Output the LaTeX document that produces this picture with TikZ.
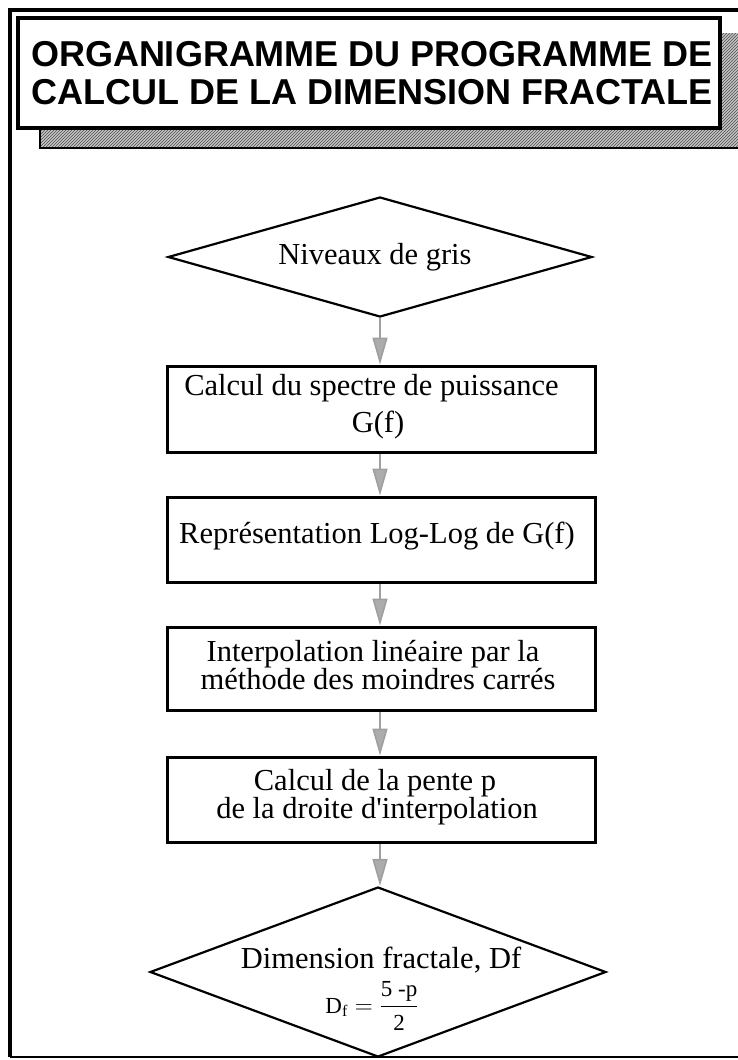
\documentclass[tikz,border=0pt]{standalone}
\usepackage{fontspec}
\usepackage{amsmath}
\setmainfont{Liberation Serif}
\newfontfamily\titlefont{Liberation Sans}
\usetikzlibrary{shapes.geometric,arrows.meta,patterns}
\begin{document}
\begin{tikzpicture}[x=1pt,y=-1pt,
  boxstyle/.style={draw=black,line width=3pt,fill=white,minimum width=428pt,inner sep=0pt},
  diastyle/.style={draw=black,line width=2.2pt,shape=diamond,inner sep=0pt},
  txtstyle/.style={anchor=base,inner sep=0pt,font=\fontsize{30.5}{30}\selectfont},
  flow/.style={draw=gray!75,line width=1.6pt,-{Triangle[length=27pt,width=15pt,fill=gray!65]}},
  framestyle/.style={draw=black,line width=4pt}]
\useasboundingbox (0,0) rectangle (738,1060);
\clip (0,0) rectangle (738,1060);
% outer frame
\draw[framestyle] (10,1057) -- (10,10) -- (760,10);
\draw[black,line width=2pt] (10,1057) -- (760,1057);
% title shadow
\fill[gray!45] (40,33) rectangle (760,148);
\fill[pattern=north east lines,pattern color=black!70] (40,33) rectangle (760,148);
\draw[black,line width=1.5pt] (40,128) -- (40,148) -- (760,148);
% title box
\node[draw=black,line width=4pt,fill=white,minimum width=702pt,minimum height=110pt,inner sep=0pt] (title) at (369,73) {};
\node[anchor=base,inner sep=0pt,font=\fontsize{36}{36}\titlefont\bfseries] (title1) at (372,66) {ORGANIGRAMME DU PROGRAMME DE};
\node[anchor=base,inner sep=0pt,font=\fontsize{36}{36}\titlefont\bfseries] (title2) at (372,104) {CALCUL DE LA DIMENSION FRACTALE};
% flowchart shapes
\node[diastyle,minimum width=424pt,minimum height=120pt] (d1) at (380,257) {};
\node[boxstyle,minimum height=86pt] (b1) at (381,409) {};
\node[boxstyle,minimum height=85pt] (b2) at (381,539.5) {};
\node[boxstyle,minimum height=83pt] (b3) at (381,668.5) {};
\node[boxstyle,minimum height=85pt] (b4) at (381,799.5) {};
\node[diastyle,minimum width=456pt,minimum height=170pt] (d2) at (378,972) {};
% texts
\node[txtstyle] (t1) at (375,264) {Niveaux de gris};
\node[txtstyle] (t2a) at (371.5,395) {Calcul du spectre de puissance};
\node[txtstyle] (t2b) at (378,432) {G(f)};
\node[txtstyle] (t3) at (377,543) {Représentation Log-Log de G(f)};
\node[txtstyle] (t4a) at (373,661) {Interpolation linéaire par la};
\node[txtstyle] (t4b) at (378,689.5) {méthode des moindres carrés};
\node[txtstyle] (t5a) at (375,790) {Calcul de la pente p};
\node[txtstyle] (t5b) at (377,818) {de la droite d\textquotesingle interpolation};
\node[txtstyle] (t6) at (381,968) {Dimension fractale, Df};
\node[anchor=base,inner sep=0pt,font=\fontsize{23}{24}\selectfont] (t7) at (372,1013) {$\mathrm{D}_{\text{f}}=\dfrac{\text{5 -p}}{\text{2}}$};
% connectors
\draw[flow] (d1.south) -- (b1.north -| d1.south);
\draw[flow] (b1.south -| d1.south) -- (b2.north -| d1.south);
\draw[flow] (b2.south -| d1.south) -- (b3.north -| d1.south);
\draw[flow] (b3.south -| d1.south) -- (b4.north -| d1.south);
\draw[flow] (b4.south -| d1.south) -- (d2.north -| d1.south);
\end{tikzpicture}
\end{document}
